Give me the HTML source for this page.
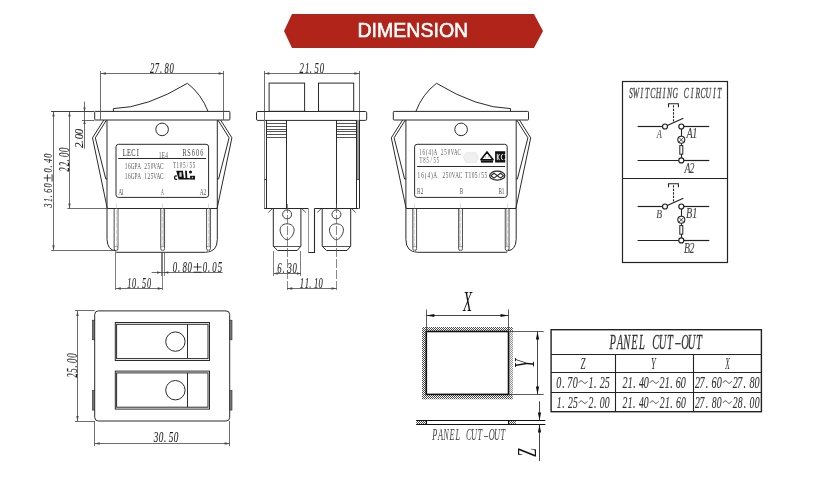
<!DOCTYPE html><html><head><meta charset="utf-8"><style>html,body{margin:0;padding:0;background:#fff;}svg{display:block;} svg{will-change:transform}</style></head><body>
<svg width="828" height="486" viewBox="0 0 828 486">
<defs><pattern id="hatch" width="2" height="2" patternUnits="userSpaceOnUse"><rect width="2" height="2" fill="#fff"/><rect width="1" height="1" fill="#4a4a4a"/><rect x="1" y="1" width="1" height="1" fill="#4a4a4a"/></pattern><pattern id="hatch2" width="2" height="2" patternUnits="userSpaceOnUse"><rect width="2" height="2" fill="#eee"/><rect width="1" height="1" fill="#999"/><rect x="1" y="1" width="1" height="1" fill="#999"/></pattern></defs>
<rect width="828" height="486" fill="#fff"/>
<polygon points="292,14 534,14 543,31 534,48 292,48 284,31" fill="#b0241a"/>
<text transform="translate(357.49,36.50) scale(0.974,1)" font-family="Liberation Sans" font-size="20.07" fill="#fff" stroke="#fff" stroke-width="0.55">DIMENSION</text>
<path d="M113.4,111.6 L113.4,108.6 Q147,107.8 187.4,83.3 Q201.4,94 208.1,111.6" stroke="#2a2a2a" stroke-width="1" fill="none"/>
<rect x="94.7" y="111.4" width="135.2" height="8.6" rx="0.8" fill="none" stroke="#2a2a2a" stroke-width="1"/>
<circle cx="162.1" cy="129.4" r="6.3" fill="none" stroke="#2a2a2a" stroke-width="1"/>
<path d="M103.8,120 L92.5,137.8 L107.2,208" stroke="#2a2a2a" stroke-width="1" fill="none"/>
<path d="M106.5,120 L95.3,137.8 L105.8,179 L107.2,179" stroke="#2a2a2a" stroke-width="1" fill="none"/>
<path d="M220.6,120 L231.9,137.8 L217.2,208" stroke="#2a2a2a" stroke-width="1" fill="none"/>
<path d="M217.9,120 L229.1,137.8 L218.6,179 L217.2,179" stroke="#2a2a2a" stroke-width="1" fill="none"/>
<path d="M107,120 L107,239.5 Q107.5,250.3 115.8,250.8 L116.5,252.3 L205.6,252.3 Q217.3,252 217.3,239.5 L217.3,120" stroke="#2a2a2a" stroke-width="1" fill="none"/>
<line x1="107.2" y1="208.5" x2="217.2" y2="208.5" stroke="#2a2a2a" stroke-width="1"/>
<rect x="116" y="144.3" width="92.6" height="53.1" rx="2.5" fill="none" stroke="#2a2a2a" stroke-width="1"/>
<line x1="118.2" y1="158.5" x2="206.1" y2="158.5" stroke="#2a2a2a" stroke-width="1"/>
<path d="M114.15,208.4 L114.15,248.6 Q114.15,250.6 116.05,250.6 Q117.95,250.6 117.95,248.6 L117.95,208.4" stroke="#3a3a3a" stroke-width="0.9" fill="none"/>
<line x1="114.15" y1="246.5" x2="117.95" y2="246.5" stroke="#666" stroke-width="0.6"/>
<line x1="117.5" y1="209" x2="117.5" y2="246" stroke="#bbb" stroke-width="0.9"/>
<line x1="116.5" y1="203.5" x2="116.5" y2="252" stroke="#c8c8c8" stroke-width="0.7" stroke-dasharray="5,1.5"/>
<path d="M160.75,208.4 L160.75,248.6 Q160.75,250.6 162.65,250.6 Q164.55,250.6 164.55,248.6 L164.55,208.4" stroke="#3a3a3a" stroke-width="0.9" fill="none"/>
<line x1="160.75" y1="246.5" x2="164.55" y2="246.5" stroke="#666" stroke-width="0.6"/>
<line x1="163.5" y1="209" x2="163.5" y2="246" stroke="#bbb" stroke-width="0.9"/>
<line x1="162.5" y1="203.5" x2="162.5" y2="252" stroke="#c8c8c8" stroke-width="0.7" stroke-dasharray="5,1.5"/>
<path d="M206.6,208.4 L206.6,248.6 Q206.6,250.6 208.5,250.6 Q210.4,250.6 210.4,248.6 L210.4,208.4" stroke="#3a3a3a" stroke-width="0.9" fill="none"/>
<line x1="206.6" y1="246.5" x2="210.4" y2="246.5" stroke="#666" stroke-width="0.6"/>
<line x1="209.5" y1="209" x2="209.5" y2="246" stroke="#bbb" stroke-width="0.9"/>
<line x1="208.5" y1="203.5" x2="208.5" y2="252" stroke="#c8c8c8" stroke-width="0.7" stroke-dasharray="5,1.5"/>
<path d="M510.5,111.6 L510.5,108.6 Q476.9,107.8 436.5,83.3 Q422.5,94 415.8,111.6" stroke="#2a2a2a" stroke-width="1" fill="none"/>
<rect x="393.3" y="111.4" width="135.2" height="8.6" rx="0.8" fill="none" stroke="#2a2a2a" stroke-width="1"/>
<circle cx="461.1" cy="129.4" r="6.3" fill="none" stroke="#2a2a2a" stroke-width="1"/>
<path d="M519.4,120 L530.7,137.8 L516.0,208" stroke="#2a2a2a" stroke-width="1" fill="none"/>
<path d="M516.7,120 L527.9,137.8 L517.4,179 L516.0,179" stroke="#2a2a2a" stroke-width="1" fill="none"/>
<path d="M402.6,120 L391.3,137.8 L406.0,208" stroke="#2a2a2a" stroke-width="1" fill="none"/>
<path d="M405.3,120 L394.1,137.8 L404.6,179 L406.0,179" stroke="#2a2a2a" stroke-width="1" fill="none"/>
<path d="M516.2,120 L516.2,239.5 Q515.7,250.3 507.4,250.8 L506.7,252.3 L417.6,252.3 Q405.9,252 405.9,239.5 L405.9,120" stroke="#2a2a2a" stroke-width="1" fill="none"/>
<line x1="516.0" y1="208.5" x2="406.0" y2="208.5" stroke="#2a2a2a" stroke-width="1"/>
<rect x="414.6" y="144.3" width="92.6" height="53.1" rx="2.5" fill="none" stroke="#2a2a2a" stroke-width="1"/>
<line x1="505.0" y1="166.5" x2="417.1" y2="166.5" stroke="#2a2a2a" stroke-width="1"/>
<path d="M509.05,208.4 L509.05,248.6 Q509.05,250.6 507.15,250.6 Q505.25,250.6 505.25,248.6 L505.25,208.4" stroke="#3a3a3a" stroke-width="0.9" fill="none"/>
<line x1="509.05" y1="246.5" x2="505.25" y2="246.5" stroke="#666" stroke-width="0.6"/>
<line x1="506.5" y1="209" x2="506.5" y2="246" stroke="#bbb" stroke-width="0.9"/>
<line x1="507.5" y1="203.5" x2="507.5" y2="252" stroke="#c8c8c8" stroke-width="0.7" stroke-dasharray="5,1.5"/>
<path d="M462.45,208.4 L462.45,248.6 Q462.45,250.6 460.55,250.6 Q458.65,250.6 458.65,248.6 L458.65,208.4" stroke="#3a3a3a" stroke-width="0.9" fill="none"/>
<line x1="462.45" y1="246.5" x2="458.65" y2="246.5" stroke="#666" stroke-width="0.6"/>
<line x1="459.5" y1="209" x2="459.5" y2="246" stroke="#bbb" stroke-width="0.9"/>
<line x1="460.5" y1="203.5" x2="460.5" y2="252" stroke="#c8c8c8" stroke-width="0.7" stroke-dasharray="5,1.5"/>
<path d="M416.6,208.4 L416.6,248.6 Q416.6,250.6 414.7,250.6 Q412.8,250.6 412.8,248.6 L412.8,208.4" stroke="#3a3a3a" stroke-width="0.9" fill="none"/>
<line x1="416.6" y1="246.5" x2="412.8" y2="246.5" stroke="#666" stroke-width="0.6"/>
<line x1="413.5" y1="209" x2="413.5" y2="246" stroke="#bbb" stroke-width="0.9"/>
<line x1="414.5" y1="203.5" x2="414.5" y2="252" stroke="#c8c8c8" stroke-width="0.7" stroke-dasharray="5,1.5"/>
<text transform="translate(0,156.00) scale(0.620,1)" x="197.94 205.02 211.82 220.62" font-family="Liberation Serif" font-size="10.41" fill="#333">LECI</text>
<text transform="translate(0,157.70) scale(0.630,1)" x="251.81 256.68 262.15" font-family="Liberation Serif" font-size="8.33" fill="#555">1E4</text>
<text transform="translate(0,156.00) scale(0.600,1)" x="304.21 312.05 319.47 326.70 333.79" font-family="Liberation Serif" font-size="10.37" fill="#444">RS606</text>
<text transform="translate(0,168.87) scale(0.630,1)" x="198.16 203.34 207.54 213.43 217.79 229.02 234.01 239.20 243.40 248.49 253.91" font-family="Liberation Serif" font-size="8.38" fill="#555">16GPA250VAC</text>
<text transform="translate(0,178.57) scale(0.630,1)" x="198.15 203.33 207.53 213.43 217.78 228.85 234.13 239.12 243.38 248.48 253.90" font-family="Liberation Serif" font-size="8.41" fill="#555">16GPA125VAC</text>
<text transform="translate(0,167.52) scale(0.630,1)" x="274.78 280.23 285.44 290.47 296.55 300.67 305.78" font-family="Liberation Serif" font-size="8.15" fill="#555">T105/55</text>
<text transform="translate(0,194.60) scale(0.700,1)" x="168.78 172.82" font-family="Liberation Serif" font-size="7.88" fill="#555">A1</text>
<text transform="translate(161.06,194.60) scale(0.504,1)" font-family="Liberation Serif" font-size="7.88" fill="#555">A</text>
<text transform="translate(0,194.60) scale(0.700,1)" x="285.49 290.65" font-family="Liberation Serif" font-size="7.85" fill="#555">A2</text>
<g fill="#111"><path d="M176.2,170.8 L182.9,170.8 L184.1,179.6 L178.6,179.6 Z"/><path d="M185.1,170.8 L186.9,170.8 L187.3,178 L189.8,178 L189.8,179.6 L183.9,179.6 L184.1,178 L185.5,178 Z"/><circle cx="190.5" cy="171.9" r="1.5"/><rect x="190.1" y="175.8" width="4.9" height="3.8"/></g><path d="M176.9,176.2 A1.5,1.8 0 1 0 176.9,179.1" fill="none" stroke="#111" stroke-width="1.3"/><rect x="179.4" y="172.3" width="2.2" height="4.5" fill="#fff" opacity="0.85"/><rect x="191.8" y="176.8" width="1.3" height="1.5" fill="#fff" opacity="0.7"/>
<text transform="translate(0,154.72) scale(0.630,1)" x="665.35 670.81 676.05 680.01 685.30 688.33 700.04 705.32 710.78 715.32 720.70 726.37" font-family="Liberation Serif" font-size="7.73" fill="#555">16(4)A250VAC</text>
<text transform="translate(0,163.43) scale(0.630,1)" x="665.90 671.75 677.12 683.44 687.98 693.42" font-family="Liberation Serif" font-size="7.41" fill="#555">T85/55</text>
<text transform="translate(0,178.22) scale(0.630,1)" x="662.76 668.64 674.29 678.56 684.27 687.54" font-family="Liberation Serif" font-size="8.33" fill="#555">16(4)A</text>
<text transform="translate(0,178.18) scale(0.630,1)" x="702.35 707.52 712.88 717.27 722.54 728.13" font-family="Liberation Serif" font-size="8.24" fill="#555">250VAC</text>
<text transform="translate(0,178.01) scale(0.630,1)" x="738.10 743.55 748.75 753.75 759.88 763.91 768.99" font-family="Liberation Serif" font-size="8.74" fill="#555">T105/55</text>
<text transform="translate(0,194.28) scale(0.700,1)" x="595.80 601.01" font-family="Liberation Serif" font-size="7.37" fill="#555">B2</text>
<text transform="translate(459.86,194.28) scale(0.705,1)" font-family="Liberation Serif" font-size="7.45" fill="#555">B</text>
<text transform="translate(0,194.28) scale(0.700,1)" x="712.23 716.89" font-family="Liberation Serif" font-size="7.40" fill="#555">B1</text>
<path d="M463.1,157.5 L466.5,152.7 L476,152.7 L478.4,157.5 L476,162.4 L466.5,162.4 Z" fill="#f0f0f0" stroke="#e2e2e2" stroke-width="0.8"/>
<path d="M487,151.9 L493.1,159.7 L480.9,159.7 Z" fill="none" stroke="#111" stroke-width="1.6" stroke-linejoin="round"/><rect x="480.9" y="160.4" width="12.1" height="2.2" fill="#111"/><path d="M485.5,155.5 L485,158.5 M488.5,155.5 L488,158.5" stroke="#999" stroke-width="0.6"/>
<path d="M495.1,151.3 L505.2,151.3 L505.2,154 L504.2,154.8 L505.2,155.6 L505.2,158.5 L504.2,159.2 L505.2,160 L505.2,162.6 L495.1,162.6 Z" fill="#111"/><path d="M497.3,153.8 L497.3,160.2 M497.8,157 L499.6,154 M497.8,157 L499.6,160.2 M503.2,154.2 A2,2.8 0 1 0 503.2,159.8" stroke="#fff" stroke-width="0.9" fill="none"/>
<ellipse cx="497.25" cy="175.65" rx="7.6" ry="4.5" fill="none" stroke="#222" stroke-width="1.2"/><path d="M491,175.65 L494,173.2 L497.25,175.65 L500.5,173.2 L503.5,175.65 L500.5,178.1 L497.25,175.65 L494,178.1 Z" fill="none" stroke="#222" stroke-width="1.1"/>
<line x1="100.5" y1="71" x2="100.5" y2="120" stroke="#484848" stroke-width="0.8"/>
<line x1="223.5" y1="71" x2="223.5" y2="120" stroke="#484848" stroke-width="0.8"/>
<line x1="100.9" y1="73.5" x2="223.6" y2="73.5" stroke="#484848" stroke-width="0.8"/>
<path d="M100.9,73.5 L105.9,72.3 L105.9,74.7 Z" fill="#484848"/>
<path d="M223.6,73.5 L218.6,72.3 L218.6,74.7 Z" fill="#484848"/>
<text transform="translate(0,72.66) scale(0.600,1)" x="250.00 257.73 266.76 274.20 282.66" font-family="Liberation Serif" font-size="14.37" font-style="italic" fill="#222" stroke="#222" stroke-width="0.1">27.80</text>
<line x1="51.1" y1="111.5" x2="94.4" y2="111.5" stroke="#2a2a2a" stroke-width="0.9"/>
<line x1="81.9" y1="120.5" x2="94.4" y2="120.5" stroke="#484848" stroke-width="0.8"/>
<line x1="67.4" y1="208.5" x2="107.2" y2="208.5" stroke="#484848" stroke-width="0.8"/>
<line x1="51.3" y1="250.5" x2="113" y2="250.5" stroke="#484848" stroke-width="0.8"/>
<line x1="53.5" y1="111.5" x2="53.5" y2="250.2" stroke="#484848" stroke-width="0.8"/>
<path d="M53.5,111.5 L52.3,116.5 L54.7,116.5 Z" fill="#484848"/>
<path d="M53.5,250.2 L52.3,245.2 L54.7,245.2 Z" fill="#484848"/>
<line x1="69.5" y1="111.5" x2="69.5" y2="208.4" stroke="#484848" stroke-width="0.8"/>
<path d="M69.5,111.5 L68.3,116.5 L70.7,116.5 Z" fill="#484848"/>
<path d="M69.5,208.4 L68.3,203.4 L70.7,203.4 Z" fill="#484848"/>
<line x1="84.5" y1="101.7" x2="84.5" y2="148.7" stroke="#484848" stroke-width="0.8"/>
<path d="M84.5,111.5 L83.3,107.5 L85.7,107.5 Z" fill="#484848"/>
<path d="M84.5,120 L83.3,124 L85.7,124 Z" fill="#484848"/>
<text transform="translate(51.87,207.40) rotate(-90) scale(0.600,1)" x="0.03 8.94 16.72 24.25 32.99 58.13 66.56 74.46 82.83" font-family="Liberation Serif" font-size="13.33" font-style="italic" fill="#222" stroke="#222" stroke-width="0.1">31.600.40</text>
<g transform="translate(51.87,207.40) rotate(-90)"><path d="M29.44,-8.10 L29.44,-1.08 M25.84,-4.50 L33.04,-4.50 M25.84,0.18 L33.04,0.18" fill="none" stroke="#222" stroke-width="0.9"/></g>
<text transform="translate(68.66,171.50) rotate(-90) scale(0.600,1)" x="0.00 8.55 16.70 24.02 32.57" font-family="Liberation Serif" font-size="14.22" font-style="italic" fill="#222" stroke="#222" stroke-width="0.1">22.00</text>
<text transform="translate(82.68,148.10) rotate(-90) scale(0.880,1)" x="0.00 5.79 10.12 15.75" font-family="Liberation Serif" font-size="12.44" font-style="italic" fill="#222" stroke="#222" stroke-width="0.1">2.00</text>
<line x1="115.5" y1="252" x2="115.5" y2="290" stroke="#484848" stroke-width="0.7"/>
<line x1="162.5" y1="252" x2="162.5" y2="290" stroke="#484848" stroke-width="0.7"/>
<line x1="115.8" y1="288.5" x2="162.7" y2="288.5" stroke="#484848" stroke-width="0.8"/>
<path d="M115.8,288.5 L120.8,287.3 L120.8,289.7 Z" fill="#484848"/>
<path d="M162.7,288.5 L157.7,287.3 L157.7,289.7 Z" fill="#484848"/>
<text transform="translate(0,287.86) scale(0.600,1)" x="212.02 220.07 228.62 236.50 244.95" font-family="Liberation Serif" font-size="13.78" font-style="italic" fill="#222" stroke="#222" stroke-width="0.1">10.50</text>
<line x1="161.5" y1="252" x2="161.5" y2="276" stroke="#484848" stroke-width="0.7"/>
<line x1="164.5" y1="252" x2="164.5" y2="276" stroke="#484848" stroke-width="0.7"/>
<line x1="151.7" y1="272.5" x2="222.6" y2="272.5" stroke="#484848" stroke-width="0.8"/>
<path d="M161.1,272.5 L157.1,271.3 L157.1,273.7 Z" fill="#484848"/>
<path d="M164.3,272.5 L168.3,271.3 L168.3,273.7 Z" fill="#484848"/>
<text transform="translate(0,271.95) scale(0.600,1)" x="287.95 296.61 304.13 312.70 337.89 346.55 353.96 362.94" font-family="Liberation Serif" font-size="14.67" font-style="italic" fill="#222" stroke="#222" stroke-width="0.1">0.800.05</text>
<g transform="translate(173.10,271.95)"><path d="M24.39,-8.91 L24.39,-1.19 M20.43,-4.95 L28.35,-4.95 M20.43,0.20 L28.35,0.20" fill="none" stroke="#222" stroke-width="0.9"/></g>
<line x1="264.5" y1="71" x2="264.5" y2="120" stroke="#484848" stroke-width="0.8"/>
<line x1="359.5" y1="71" x2="359.5" y2="120" stroke="#484848" stroke-width="0.8"/>
<line x1="264.4" y1="73.5" x2="359.4" y2="73.5" stroke="#484848" stroke-width="0.8"/>
<path d="M264.4,73.5 L269.4,72.3 L269.4,74.7 Z" fill="#484848"/>
<path d="M359.4,73.5 L354.4,72.3 L354.4,74.7 Z" fill="#484848"/>
<text transform="translate(0,72.65) scale(0.600,1)" x="499.00 508.26 516.35 524.31 532.92" font-family="Liberation Serif" font-size="14.52" font-style="italic" fill="#222" stroke="#222" stroke-width="0.1">21.50</text>
<rect x="269.1" y="83.1" width="35.5" height="28.2" fill="none" stroke="#2a2a2a" stroke-width="1"/>
<rect x="318.5" y="83.1" width="35.2" height="28.2" fill="none" stroke="#2a2a2a" stroke-width="1"/>
<rect x="256.5" y="111.5" width="110.2" height="8.9" rx="1.3" fill="none" stroke="#2a2a2a" stroke-width="1"/>
<line x1="264.5" y1="120" x2="264.5" y2="208.7" stroke="#777" stroke-width="0.9"/>
<line x1="266.5" y1="120" x2="266.5" y2="208.7" stroke="#2a2a2a" stroke-width="1"/>
<line x1="264.2" y1="179.5" x2="266.6" y2="179.5" stroke="#2a2a2a" stroke-width="0.8"/>
<line x1="286.5" y1="120" x2="286.5" y2="208.7" stroke="#2a2a2a" stroke-width="1"/>
<line x1="336.5" y1="120" x2="336.5" y2="208.7" stroke="#2a2a2a" stroke-width="1"/>
<rect x="357" y="120" width="2" height="59" fill="#999"/>
<line x1="356.5" y1="120" x2="356.5" y2="208.7" stroke="#2a2a2a" stroke-width="1"/>
<line x1="359.5" y1="120" x2="359.5" y2="208.7" stroke="#2a2a2a" stroke-width="1"/>
<line x1="357" y1="179.5" x2="359.6" y2="179.5" stroke="#2a2a2a" stroke-width="0.8"/>
<line x1="266.6" y1="123.5" x2="286.6" y2="123.5" stroke="#2a2a2a" stroke-width="0.8"/>
<line x1="336.9" y1="123.5" x2="356.9" y2="123.5" stroke="#2a2a2a" stroke-width="0.8"/>
<line x1="266.6" y1="126.5" x2="286.6" y2="126.5" stroke="#2a2a2a" stroke-width="0.8"/>
<line x1="336.9" y1="126.5" x2="356.9" y2="126.5" stroke="#2a2a2a" stroke-width="0.8"/>
<line x1="266.6" y1="129.5" x2="286.6" y2="129.5" stroke="#2a2a2a" stroke-width="0.8"/>
<line x1="336.9" y1="129.5" x2="356.9" y2="129.5" stroke="#2a2a2a" stroke-width="0.8"/>
<line x1="266.6" y1="131.5" x2="286.6" y2="131.5" stroke="#2a2a2a" stroke-width="0.8"/>
<line x1="336.9" y1="131.5" x2="356.9" y2="131.5" stroke="#2a2a2a" stroke-width="0.8"/>
<line x1="266.6" y1="134.5" x2="286.6" y2="134.5" stroke="#2a2a2a" stroke-width="0.8"/>
<line x1="336.9" y1="134.5" x2="356.9" y2="134.5" stroke="#2a2a2a" stroke-width="0.8"/>
<line x1="266.6" y1="137.5" x2="286.6" y2="137.5" stroke="#2a2a2a" stroke-width="0.8"/>
<line x1="336.9" y1="137.5" x2="356.9" y2="137.5" stroke="#2a2a2a" stroke-width="0.8"/>
<line x1="264.2" y1="208.5" x2="308.4" y2="208.5" stroke="#2a2a2a" stroke-width="1"/>
<line x1="314.5" y1="208.5" x2="358.7" y2="208.5" stroke="#2a2a2a" stroke-width="1"/>
<path d="M273.3,208.5 L273.3,246.2 L277.6,250.5 L297.2,250.5 L300.9,246.2 L300.9,208.5" stroke="#2a2a2a" stroke-width="1" fill="none"/>
<line x1="273.3" y1="246.5" x2="300.9" y2="246.5" stroke="#2a2a2a" stroke-width="0.8"/>
<circle cx="287.1" cy="214.4" r="4.5" fill="none" stroke="#2a2a2a" stroke-width="0.9"/>
<path d="M287.1,223.8 C291.6,223.8 294.1,226.5 294.1,230.2 C294.1,234 290.1,239.8 287.1,239.8 C284.1,239.8 280.1,234 280.1,230.2 C280.1,226.5 282.6,223.8 287.1,223.8 Z" stroke="#2a2a2a" stroke-width="0.9" fill="none"/>
<line x1="287.5" y1="204" x2="287.5" y2="292" stroke="#555" stroke-width="0.7" stroke-dasharray="9,2"/>
<path d="M272.5,208.5 L268.3,212.5 M301.7,208.5 L305.9,212.5" stroke="#2a2a2a" stroke-width="0.8" fill="none"/>
<path d="M322.2,208.5 L322.2,246.2 L326.5,250.5 L347.0,250.5 L350.7,246.2 L350.7,208.5" stroke="#2a2a2a" stroke-width="1" fill="none"/>
<line x1="322.2" y1="246.5" x2="350.7" y2="246.5" stroke="#2a2a2a" stroke-width="0.8"/>
<circle cx="336.45" cy="214.4" r="4.5" fill="none" stroke="#2a2a2a" stroke-width="0.9"/>
<path d="M336.45,223.8 C340.95,223.8 343.45,226.5 343.45,230.2 C343.45,234 339.45,239.8 336.45,239.8 C333.45,239.8 329.45,234 329.45,230.2 C329.45,226.5 331.95,223.8 336.45,223.8 Z" stroke="#2a2a2a" stroke-width="0.9" fill="none"/>
<line x1="336.5" y1="204" x2="336.5" y2="292" stroke="#555" stroke-width="0.7" stroke-dasharray="9,2"/>
<path d="M321.4,208.5 L317.2,212.5 M351.5,208.5 L355.7,212.5" stroke="#2a2a2a" stroke-width="0.8" fill="none"/>
<line x1="308.5" y1="208.5" x2="308.5" y2="252.5" stroke="#888" stroke-width="0.9"/>
<path d="M308.4,252.5 L314.5,252.5 L314.5,208.5" stroke="#2a2a2a" stroke-width="1.1" fill="none"/>
<line x1="273.5" y1="251" x2="273.5" y2="276" stroke="#484848" stroke-width="0.7"/>
<line x1="300.5" y1="251" x2="300.5" y2="276" stroke="#484848" stroke-width="0.7"/>
<line x1="273.6" y1="273.5" x2="300.9" y2="273.5" stroke="#484848" stroke-width="0.8"/>
<path d="M273.6,273.5 L277.6,272.3 L277.6,274.7 Z" fill="#484848"/>
<path d="M300.9,273.5 L296.9,272.3 L296.9,274.7 Z" fill="#484848"/>
<text transform="translate(0,272.55) scale(0.600,1)" x="462.09 470.97 479.12 487.59" font-family="Liberation Serif" font-size="14.52" font-style="italic" fill="#222" stroke="#222" stroke-width="0.1">6.30</text>
<line x1="287.25" y1="288.5" x2="336.55" y2="288.5" stroke="#484848" stroke-width="0.8"/>
<path d="M287.25,288.5 L292.25,287.3 L292.25,289.7 Z" fill="#484848"/>
<path d="M336.55,288.5 L331.55,287.3 L331.55,289.7 Z" fill="#484848"/>
<text transform="translate(0,288.16) scale(0.600,1)" x="499.50 507.84 515.48 523.26 530.90" font-family="Liberation Serif" font-size="14.22" font-style="italic" fill="#222" stroke="#222" stroke-width="0.1">11.10</text>
<rect x="622.5" y="81.5" width="105" height="181" fill="none" stroke="#222" stroke-width="1.2"/>
<line x1="622.5" y1="178.5" x2="727.5" y2="178.5" stroke="#222" stroke-width="1.2"/>
<text transform="translate(0,98.47) scale(0.500,1)" x="1257.81 1265.30 1281.06 1289.82 1300.57 1311.52 1325.62 1334.20 1344.96 1367.41 1381.32 1390.77 1400.83 1410.93 1425.89 1434.65" font-family="Liberation Serif" font-size="15.20" font-style="italic" fill="#444" stroke="#444" stroke-width="0.3">SWITCHINGCIRCUIT</text>
<line x1="637.6" y1="126.5" x2="662.5" y2="126.5" stroke="#222" stroke-width="1.2"/>
<line x1="683.8" y1="126.5" x2="709.3" y2="126.5" stroke="#222" stroke-width="1.2"/>
<line x1="637.6" y1="160.5" x2="678.8" y2="160.5" stroke="#222" stroke-width="1.2"/>
<line x1="683.8" y1="160.5" x2="709.3" y2="160.5" stroke="#222" stroke-width="1.2"/>
<circle cx="665" cy="126.5" r="2.5" fill="#fff" stroke="#222" stroke-width="1.2"/>
<circle cx="681.3" cy="126.5" r="2.5" fill="#fff" stroke="#222" stroke-width="1.2"/>
<circle cx="681.3" cy="160.4" r="2.5" fill="#fff" stroke="#222" stroke-width="1.2"/>
<line x1="667.3" y1="125.5" x2="683.3" y2="118.2" stroke="#222" stroke-width="1.2"/>
<line x1="673.5" y1="121.5" x2="673.5" y2="104" stroke="#222" stroke-width="1.1" stroke-dasharray="2.2,1.3"/>
<path d="M668.5,107.3 L668.5,103.8 L678.4,103.8 L678.4,107.3" stroke="#222" stroke-width="1.1" fill="none"/>
<line x1="681.5" y1="129.0" x2="681.5" y2="136.3" stroke="#222" stroke-width="1.1"/>
<circle cx="681.3" cy="139.8" r="3.5" fill="#fff" stroke="#222" stroke-width="1.1"/>
<path d="M679,137.5 L683.6,142.1 M683.6,137.5 L679,142.1" stroke="#222" stroke-width="0.8" fill="none"/>
<line x1="681.5" y1="143.3" x2="681.5" y2="145.6" stroke="#222" stroke-width="1.1"/>
<rect x="679.8" y="145.6" width="3" height="8.6" fill="#fff" stroke="#222" stroke-width="1"/>
<line x1="681.5" y1="154.2" x2="681.5" y2="157.9" stroke="#222" stroke-width="1.1"/>
<text transform="translate(656.86,138.40) scale(0.673,1)" font-family="Liberation Serif" font-size="12.42" font-style="italic" fill="#555" stroke="#222" stroke-width="0.1">A</text>
<text transform="translate(0,138.40) scale(0.700,1)" x="980.80 989.01" font-family="Liberation Serif" font-size="14.55" font-style="italic" fill="#444" stroke="#222" stroke-width="0.1">A1</text>
<text transform="translate(0,172.80) scale(0.700,1)" x="977.91 985.15" font-family="Liberation Serif" font-size="14.04" font-style="italic" fill="#444" stroke="#222" stroke-width="0.1">A2</text>
<line x1="637.6" y1="206.5" x2="662.5" y2="206.5" stroke="#222" stroke-width="1.2"/>
<line x1="683.8" y1="206.5" x2="709.3" y2="206.5" stroke="#222" stroke-width="1.2"/>
<line x1="637.6" y1="240.5" x2="678.8" y2="240.5" stroke="#222" stroke-width="1.2"/>
<line x1="683.8" y1="240.5" x2="709.3" y2="240.5" stroke="#222" stroke-width="1.2"/>
<circle cx="665" cy="206.5" r="2.5" fill="#fff" stroke="#222" stroke-width="1.2"/>
<circle cx="681.3" cy="206.5" r="2.5" fill="#fff" stroke="#222" stroke-width="1.2"/>
<circle cx="681.3" cy="240.4" r="2.5" fill="#fff" stroke="#222" stroke-width="1.2"/>
<line x1="667.3" y1="205.5" x2="683.3" y2="198.2" stroke="#222" stroke-width="1.2"/>
<line x1="673.5" y1="201.5" x2="673.5" y2="184" stroke="#222" stroke-width="1.1" stroke-dasharray="2.2,1.3"/>
<path d="M668.5,187.3 L668.5,183.8 L678.4,183.8 L678.4,187.3" stroke="#222" stroke-width="1.1" fill="none"/>
<line x1="681.5" y1="209.0" x2="681.5" y2="216.3" stroke="#222" stroke-width="1.1"/>
<circle cx="681.3" cy="219.8" r="3.5" fill="#fff" stroke="#222" stroke-width="1.1"/>
<path d="M679,217.5 L683.6,222.1 M683.6,217.5 L679,222.1" stroke="#222" stroke-width="0.8" fill="none"/>
<line x1="681.5" y1="223.3" x2="681.5" y2="225.6" stroke="#222" stroke-width="1.1"/>
<rect x="679.8" y="225.6" width="3" height="8.6" fill="#fff" stroke="#222" stroke-width="1"/>
<line x1="681.5" y1="234.2" x2="681.5" y2="237.9" stroke="#222" stroke-width="1.1"/>
<text transform="translate(656.30,218.37) scale(0.774,1)" font-family="Liberation Serif" font-size="12.47" font-style="italic" fill="#555" stroke="#222" stroke-width="0.1">B</text>
<text transform="translate(0,218.36) scale(0.700,1)" x="979.86 989.03" font-family="Liberation Serif" font-size="14.49" font-style="italic" fill="#444" stroke="#222" stroke-width="0.1">B1</text>
<text transform="translate(0,252.77) scale(0.700,1)" x="977.00 985.18" font-family="Liberation Serif" font-size="13.98" font-style="italic" fill="#444" stroke="#222" stroke-width="0.1">B2</text>
<rect x="94.7" y="310.9" width="135" height="110.1" rx="3.7" fill="none" stroke="#2a2a2a" stroke-width="1"/>
<rect x="92.4" y="320.2" width="2.3" height="19.6" fill="#777" stroke="#2a2a2a" stroke-width="0.6"/>
<rect x="92.4" y="390.5" width="2.3" height="19.6" fill="#777" stroke="#2a2a2a" stroke-width="0.6"/>
<rect x="229.7" y="320.2" width="2.3" height="19.6" fill="#777" stroke="#2a2a2a" stroke-width="0.6"/>
<rect x="229.7" y="390.5" width="2.3" height="19.6" fill="#777" stroke="#2a2a2a" stroke-width="0.6"/>
<rect x="115.3" y="322.5" width="94.2" height="38" fill="none" stroke="#2a2a2a" stroke-width="1"/>
<rect x="116.6" y="324.3" width="91.4" height="34.3" fill="none" stroke="#2a2a2a" stroke-width="1"/>
<line x1="187.5" y1="324.3" x2="187.5" y2="358.6" stroke="#2a2a2a" stroke-width="1"/>
<circle cx="175.4" cy="341.6" r="9.7" fill="none" stroke="#2a2a2a" stroke-width="1"/>
<rect x="115.3" y="371.1" width="94.2" height="38" fill="none" stroke="#2a2a2a" stroke-width="1"/>
<rect x="116.6" y="372.9" width="91.4" height="34.3" fill="none" stroke="#2a2a2a" stroke-width="1"/>
<line x1="187.5" y1="372.9" x2="187.5" y2="407.2" stroke="#2a2a2a" stroke-width="1"/>
<circle cx="175.4" cy="390.2" r="9.7" fill="none" stroke="#2a2a2a" stroke-width="1"/>
<line x1="75" y1="310.5" x2="94.7" y2="310.5" stroke="#484848" stroke-width="0.8"/>
<line x1="75" y1="421.5" x2="94.7" y2="421.5" stroke="#484848" stroke-width="0.8"/>
<line x1="77.5" y1="310.9" x2="77.5" y2="421" stroke="#484848" stroke-width="0.8"/>
<path d="M77.5,310.9 L76.3,315.9 L78.7,315.9 Z" fill="#484848"/>
<path d="M77.5,421 L76.3,416 L78.7,416 Z" fill="#484848"/>
<text transform="translate(76.66,377.60) rotate(-90) scale(0.600,1)" x="0.00 8.62 16.92 24.39 33.07" font-family="Liberation Serif" font-size="14.22" font-style="italic" fill="#222" stroke="#222" stroke-width="0.1">25.00</text>
<line x1="94.5" y1="421" x2="94.5" y2="446" stroke="#484848" stroke-width="0.8"/>
<line x1="229.5" y1="421" x2="229.5" y2="446" stroke="#484848" stroke-width="0.8"/>
<line x1="94.7" y1="443.5" x2="229.7" y2="443.5" stroke="#484848" stroke-width="0.8"/>
<path d="M94.7,443.5 L99.7,442.3 L99.7,444.7 Z" fill="#484848"/>
<path d="M229.7,443.5 L224.7,442.3 L224.7,444.7 Z" fill="#484848"/>
<text transform="translate(0,442.05) scale(0.600,1)" x="256.21 264.52 273.35 281.08 289.56" font-family="Liberation Serif" font-size="15.26" font-style="italic" fill="#222" stroke="#222" stroke-width="0.1">30.50</text>
<rect x="422" y="327" width="90.8" height="72.3" fill="url(#hatch)"/>
<rect x="508.5" y="331" width="4.3" height="63" fill="url(#hatch2)"/>
<rect x="426.3" y="331.5" width="82.2" height="62.9" fill="#fff" stroke="#111" stroke-width="1.6"/>
<line x1="426.5" y1="309.5" x2="426.5" y2="331.5" stroke="#333" stroke-width="0.8"/>
<line x1="508.5" y1="309.5" x2="508.5" y2="331.5" stroke="#333" stroke-width="0.8"/>
<line x1="426.3" y1="315.5" x2="508.5" y2="315.5" stroke="#333" stroke-width="0.9"/>
<path d="M426.3,315.5 L434.3,313.9 L434.3,317.1 Z" fill="#111"/>
<path d="M508.5,315.5 L500.5,313.9 L500.5,317.1 Z" fill="#111"/>
<text transform="translate(463.08,310.90) scale(0.511,1)" font-family="Liberation Serif" font-size="29.01" font-style="italic" fill="#111">X</text>
<line x1="508.5" y1="331.5" x2="543.7" y2="331.5" stroke="#333" stroke-width="0.8"/>
<line x1="508.5" y1="394.5" x2="543.7" y2="394.5" stroke="#333" stroke-width="0.8"/>
<line x1="537.5" y1="331.5" x2="537.5" y2="394.4" stroke="#333" stroke-width="0.9"/>
<path d="M537.5,331.5 L535.9,339.5 L539.1,339.5 Z" fill="#111"/>
<path d="M537.5,394.4 L535.9,386.4 L539.1,386.4 Z" fill="#111"/>
<text transform="translate(534.00,368.10) rotate(-90) scale(0.529,1)" font-family="Liberation Serif" font-size="29.62" font-style="italic" fill="#111">Y</text>
<rect x="416.2" y="420.4" width="99.7" height="4.1" fill="url(#hatch)"/>
<rect x="426.7" y="420.4" width="81.6" height="4.1" fill="#fff"/>
<line x1="416.2" y1="420.5" x2="545.4" y2="420.5" stroke="#111" stroke-width="1.2"/>
<line x1="416.2" y1="424.5" x2="545.4" y2="424.5" stroke="#111" stroke-width="1.2"/>
<line x1="426.5" y1="420.4" x2="426.5" y2="424.5" stroke="#111" stroke-width="1"/>
<line x1="508.5" y1="420.4" x2="508.5" y2="424.5" stroke="#111" stroke-width="1"/>
<line x1="539.5" y1="401.3" x2="539.5" y2="420.4" stroke="#333" stroke-width="0.9"/>
<path d="M539.5,420.4 L537.9,412.4 L541.1,412.4 Z" fill="#111"/>
<line x1="539.5" y1="424.5" x2="539.5" y2="461.1" stroke="#333" stroke-width="0.9"/>
<path d="M539.5,424.5 L537.9,432.5 L541.1,432.5 Z" fill="#111"/>
<text transform="translate(535.80,456.79) rotate(-90) scale(0.525,1)" font-family="Liberation Serif" font-size="28.24" font-style="italic" fill="#111">Z</text>
<text transform="translate(0,440.30) scale(0.500,1)" x="864.48 876.08 886.31 898.76 910.89 931.82 942.11 955.11 968.03 977.40 987.84 1000.84" font-family="Liberation Serif" font-size="16.52" font-style="italic" fill="#444">PANELCUT–OUT</text>
<rect x="551.1" y="329.7" width="210.3" height="82" fill="none" stroke="#222" stroke-width="1.4"/>
<line x1="551.1" y1="354.5" x2="761.4" y2="354.5" stroke="#222" stroke-width="1.1"/>
<line x1="551.1" y1="372.5" x2="761.4" y2="372.5" stroke="#222" stroke-width="1.1"/>
<line x1="551.1" y1="392.5" x2="761.4" y2="392.5" stroke="#222" stroke-width="1.1"/>
<line x1="615.5" y1="354.7" x2="615.5" y2="411.7" stroke="#222" stroke-width="1.1"/>
<line x1="693.5" y1="354.7" x2="693.5" y2="411.7" stroke="#222" stroke-width="1.1"/>
<text transform="translate(0,349.20) scale(0.500,1)" x="1218.91 1233.63 1246.62 1262.43 1277.84 1304.40 1317.47 1333.98 1350.39 1362.28 1375.53 1392.05" font-family="Liberation Serif" font-size="21.06" font-style="italic" fill="#333" stroke="#333" stroke-width="0.3">PANELCUT–OUT</text>
<text transform="translate(580.39,369.40) scale(0.565,1)" font-family="Liberation Serif" font-size="16.03" font-style="italic" fill="#333">Z</text>
<text transform="translate(650.91,369.40) scale(0.531,1)" font-family="Liberation Serif" font-size="16.03" font-style="italic" fill="#333">Y</text>
<text transform="translate(725.24,369.40) scale(0.462,1)" font-family="Liberation Serif" font-size="16.03" font-style="italic" fill="#333">X</text>
<text transform="translate(0,387.84) scale(0.620,1)" x="897.29 906.72 915.12 923.70 949.30 957.94 967.30 975.24" font-family="Liberation Serif" font-size="16.30" font-style="italic" fill="#333" stroke="#222" stroke-width="0.1">0.701.25</text>
<g transform="translate(556.70,387.84)"><path d="M21.94,-5.00 C23.70,-7.81 25.28,-7.48 26.34,-5.83 C27.39,-4.18 28.98,-3.85 30.74,-6.66" fill="none" stroke="#333" stroke-width="0.9"/></g>
<text transform="translate(0,387.84) scale(0.620,1)" x="1004.03 1012.52 1021.22 1030.67 1038.39 1063.82 1072.31 1081.01 1090.02 1098.18" font-family="Liberation Serif" font-size="16.30" font-style="italic" fill="#333" stroke="#222" stroke-width="0.1">21.4021.60</text>
<g transform="translate(622.50,387.84)"><path d="M27.32,-5.00 C29.08,-7.81 30.66,-7.48 31.72,-5.83 C32.78,-4.18 34.36,-3.85 36.12,-6.66" fill="none" stroke="#333" stroke-width="0.9"/></g>
<text transform="translate(0,387.84) scale(0.620,1)" x="1120.97 1128.24 1138.44 1147.67 1155.98 1181.89 1189.16 1199.36 1208.79 1216.90" font-family="Liberation Serif" font-size="16.30" font-style="italic" fill="#333" stroke="#222" stroke-width="0.1">27.6027.80</text>
<g transform="translate(695.00,387.84)"><path d="M27.87,-5.00 C29.63,-7.81 31.21,-7.48 32.27,-5.83 C33.33,-4.18 34.91,-3.85 36.67,-6.66" fill="none" stroke="#333" stroke-width="0.9"/></g>
<text transform="translate(0,407.74) scale(0.620,1)" x="898.16 906.75 916.23 924.20 949.13 958.12 967.22 975.25" font-family="Liberation Serif" font-size="15.70" font-style="italic" fill="#333" stroke="#222" stroke-width="0.1">1.252.00</text>
<g transform="translate(557.20,407.74)"><path d="M21.63,-4.82 C23.33,-7.53 24.86,-7.21 25.87,-5.62 C26.89,-4.03 28.42,-3.71 30.11,-6.41" fill="none" stroke="#333" stroke-width="0.9"/></g>
<text transform="translate(0,407.74) scale(0.620,1)" x="1004.03 1012.53 1021.18 1030.75 1038.50 1064.00 1072.49 1081.15 1090.29 1098.47" font-family="Liberation Serif" font-size="15.70" font-style="italic" fill="#333" stroke="#222" stroke-width="0.1">21.4021.60</text>
<g transform="translate(622.50,407.74)"><path d="M27.48,-4.82 C29.17,-7.53 30.70,-7.21 31.72,-5.62 C32.73,-4.03 34.26,-3.71 35.96,-6.41" fill="none" stroke="#333" stroke-width="0.9"/></g>
<text transform="translate(0,407.74) scale(0.620,1)" x="1120.97 1128.30 1138.40 1147.96 1156.10 1182.06 1190.06 1199.49 1208.93 1217.19" font-family="Liberation Serif" font-size="15.70" font-style="italic" fill="#333" stroke="#222" stroke-width="0.1">27.8028.00</text>
<g transform="translate(695.00,407.74)"><path d="M28.03,-4.82 C29.72,-7.53 31.25,-7.21 32.27,-5.62 C33.28,-4.03 34.81,-3.71 36.51,-6.41" fill="none" stroke="#333" stroke-width="0.9"/></g>
</svg></body></html>
